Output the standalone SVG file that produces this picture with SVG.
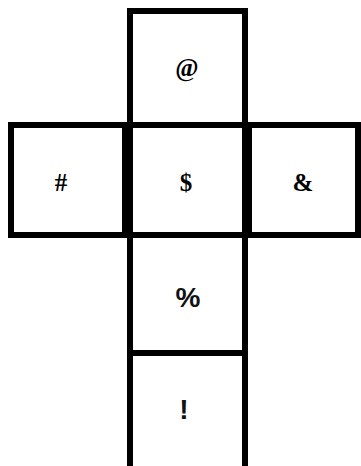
<svg xmlns="http://www.w3.org/2000/svg" width="361" height="466" viewBox="0 0 361 466">
<style>
.face{fill:#fff;stroke:#000;stroke-width:6}
.serif{font-family:"Liberation Serif","Times New Roman",serif;font-weight:bold;font-size:25px;text-anchor:middle;fill:#000}
.sans{font-family:"Liberation Sans",Arial,sans-serif;font-weight:bold;font-size:28px;text-anchor:middle;fill:#111}
</style>
<rect width="361" height="466" fill="#fff"/>
<g id="face-top"><rect class="face" x="130" y="11" width="115" height="114"/><text class="serif" x="187" y="76">@</text></g>
<g id="face-left"><rect class="face" x="11" y="125" width="114" height="110"/><text class="serif" x="61" y="191">#</text></g>
<g id="face-center"><rect class="face" x="130" y="125" width="115" height="110"/><text class="serif" x="186" y="191">$</text></g>
<g id="face-right"><rect class="face" x="249" y="125" width="109" height="110"/><text class="serif" x="303" y="191">&amp;</text></g>
<g id="face-percent"><rect class="face" x="130" y="235" width="115" height="118"/><text class="sans" x="188" y="307">%</text></g>
<g id="face-bang"><rect class="face" x="130" y="353" width="115" height="120"/><text class="sans" x="184" y="419">!</text></g>
</svg>
